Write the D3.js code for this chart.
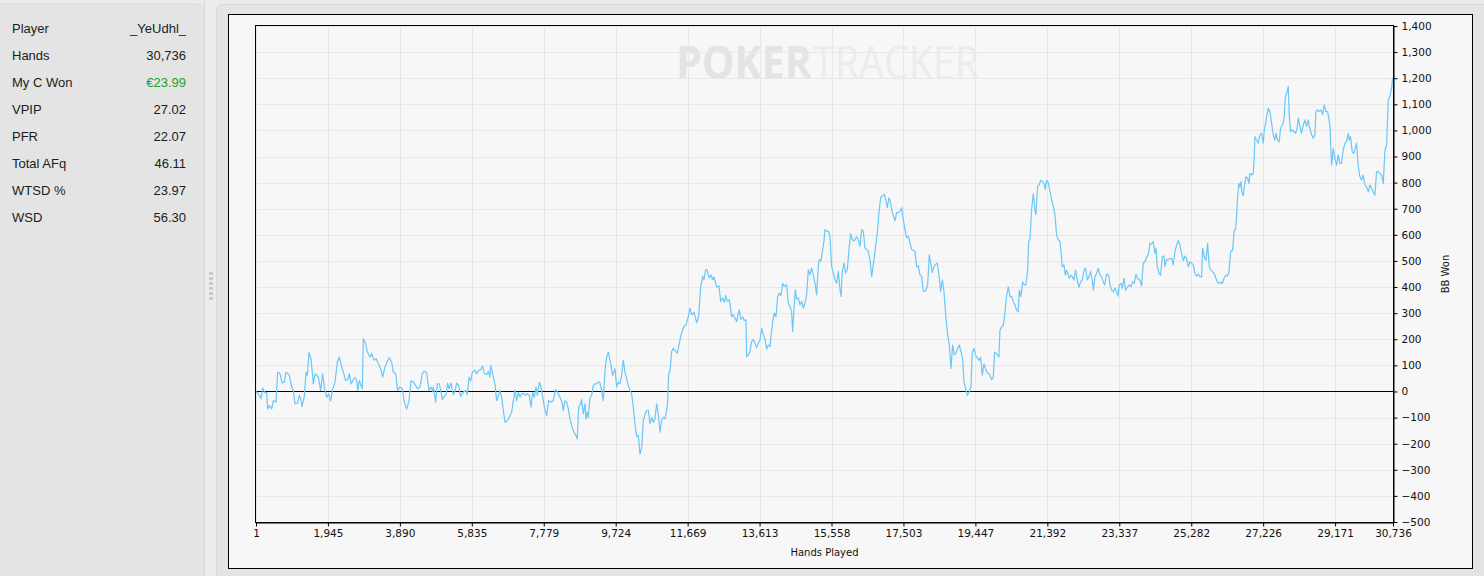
<!DOCTYPE html>
<html>
<head>
<meta charset="utf-8">
<script src="https://cdn.jsdelivr.net/npm/d3@7"></script>
<style>
  body { margin: 0; background: #ececec; overflow: hidden; }
  svg { display: block; }
</style>
</head>
<body>
<svg id="chart" width="1484" height="576"></svg>
<script>
// stats panel
const statLabels = ["Player", "Hands", "My C Won", "VPIP", "PFR", "Total AFq", "WTSD %", "WSD"];
const statValues = ["_YeUdhl_", "30,736", "€23.99", "27.02", "22.07", "46.11", "23.97", "56.30"];

// graph data (hand number, bb won)
const hands = [1,64,136,181,244,290,317,362,425,470,542,587,650,704,767,812,902,965,1010,1055,1127,1172,1218,1245,1308,1353,1389,1434,1488,1551,1596,1641,1686,1749,1803,1848,1911,1965,2019,2073,2137,2200,2254,2299,2362,2425,2479,2524,2569,2632,2677,2722,2749,2794,2839,2875,2902,2965,3011,3083,3128,3191,3245,3308,3371,3425,3488,3551,3605,3668,3713,3776,3830,3894,3957,4011,4074,4137,4191,4254,4299,4371,4434,4497,4551,4614,4677,4731,4776,4795,4858,4903,4957,4993,5038,5083,5137,5182,5218,5272,5335,5380,5425,5479,5533,5605,5668,5714,5759,5804,5849,5921,5966,6020,6074,6128,6173,6236,6281,6326,6344,6416,6461,6506,6551,6597,6642,6687,6732,6795,6849,6912,6957,7002,7047,7092,7137,7182,7227,7272,7317,7389,7434,7479,7524,7570,7606,7660,7705,7768,7813,7858,7912,7975,8038,8092,8128,8173,8218,8272,8308,8353,8398,8443,8489,8543,8597,8651,8687,8723,8759,8804,8849,8894,8921,8957,8984,9029,9074,9119,9164,9209,9254,9299,9344,9389,9435,9480,9525,9588,9642,9705,9750,9795,9840,9885,9930,9975,10020,10065,10110,10155,10200,10245,10291,10336,10381,10426,10471,10516,10561,10606,10651,10696,10741,10786,10831,10876,10921,10966,11011,11056,11101,11128,
  11156,11192,11237,11282,11390,11444,11507,11570,11624,11687,11733,11778,11841,11913,11967,12021,12075,12111,12156,12201,12246,12300,12345,12381,12453,12516,12561,12615,12661,12697,12742,12796,12859,12904,12949,12994,13030,13066,13102,13156,13201,13246,13264,13309,13354,13399,13444,13489,13534,13580,13625,13670,13715,13760,13805,13850,13895,13967,14012,14057,14102,14147,14192,14237,14282,14345,14390,14435,14480,14507,14543,14580,14616,14661,14706,14751,14796,14841,14886,14931,14976,15021,15066,15111,15156,15201,15228,15273,15318,15354,15381,15426,15471,15516,15561,15607,15652,15697,15742,15787,15814,15850,15895,15940,15985,16030,16075,16120,16165,16237,16282,16327,16372,16417,16462,16507,16552,16598,16643,16706,16751,16796,16841,16886,16931,16985,17030,17066,17111,17156,17201,17273,17318,17363,17409,17454,17499,17544,17589,17634,17679,17724,17769,17814,17859,17904,17949,17994,18040,18085,18130,18157,18202,18238,18283,18328,18373,18418,18463,18508,18553,18598,18652,18697,18742,18787,18832,18877,18922,18967,19012,19057,
  19102,19138,19228,19283,19327,19363,19408,19453,19544,19589,19634,19679,19724,19769,19823,19886,19931,19967,20021,20084,20111,20156,20201,20246,20291,20336,20382,20427,20472,20517,20562,20607,20634,20679,20724,20769,20814,20859,20886,20922,20967,21012,21057,21084,21129,21174,21210,21255,21300,21336,21372,21417,21463,21508,21553,21598,21643,21688,21733,21760,21796,21841,21877,21913,21958,21985,22030,22066,22111,22156,22201,22247,22292,22337,22382,22427,22472,22517,22562,22607,22634,22679,22724,22769,22814,22859,22904,22940,22994,23048,23084,23129,23174,23219,23264,23300,23337,23382,23418,23463,23508,23562,23607,23652,23697,23742,23787,23832,23895,23940,23985,24030,24075,24121,24166,24211,24256,24301,24328,24364,24409,24454,24499,24544,24571,24616,24661,24706,24751,24796,24841,24886,24931,24976,25022,25067,25112,25157,25202,25247,25292,25337,25382,25427,25472,25517,
  25562,25589,25634,25679,25724,25769,25814,25859,25904,25985,26031,26076,26121,26166,26211,26256,26301,26346,26400,26445,26481,26508,26535,26571,26598,26625,26652,26688,26715,26760,26805,26842,26869,26914,26959,26986,27004,27049,27094,27139,27184,27229,27256,27292,27337,27364,27409,27454,27499,27544,27571,27616,27661,27697,27724,27769,27796,27823,27905,27932,27968,28013,28067,28103,28148,28175,28220,28265,28310,28355,28400,28445,28490,28535,28580,28625,28652,28697,28743,28788,28833,28878,28923,28968,29031,29076,29121,29166,29211,29256,29301,29346,29391,29436,29481,29526,29553,29589,29634,29679,29752,29797,29842,29887,29932,29977,30022,30067,30112,30157,30202,30247,30293,30338,30383,30428,30473,30518,30563,30608,30653,30698,30725,30736];
const bbWon = [0,-9,-28,13,-6,-3,-67,-54,-67,-35,-41,74,68,33,36,74,62,17,4,-47,-45,-15,-32,-58,-19,74,62,149,126,29,68,62,55,4,68,17,-22,-9,-37,10,36,113,132,106,74,42,45,68,29,45,53,42,4,42,23,10,202,183,151,132,145,119,126,106,87,55,94,117,130,113,74,68,4,17,10,-41,-67,-35,42,36,27,10,17,68,78,71,4,17,1,17,-41,29,29,4,-32,-19,-12,32,10,32,-12,1,32,23,-19,-3,4,-12,55,40,74,81,68,81,83,97,68,65,77,55,100,55,29,-35,-19,4,-22,-73,-118,-112,-99,-79,-35,4,-35,-3,-22,-9,-6,-15,-9,-15,-60,-3,-22,17,-15,36,17,-35,-73,-92,-35,-41,-35,6,4,-9,-22,-41,-73,-35,-41,-67,-105,-137,-156,-169,-182,-60,-54,-31,-86,-47,-105,-79,-99,-24,-15,23,29,29,38,32,4,-35,81,132,151,106,62,87,17,36,29,62,119,74,49,23,4,-9,-60,-124,-173,-169,-240,-215,-112,-86,-73,-71,-124,-99,-118,-105,-47,-86,-156,-112,-99,-105,-73,-40,
  69,76,153,165,146,185,226,249,255,287,319,294,303,264,287,400,441,428,467,464,435,447,428,438,400,405,345,358,341,367,345,351,287,294,281,268,294,313,277,285,272,274,133,140,153,191,200,185,168,185,197,242,217,200,162,178,172,268,300,287,364,377,367,413,403,409,336,326,306,229,313,390,354,358,332,345,319,338,370,467,447,473,447,415,370,479,505,499,544,576,620,614,614,595,479,454,428,415,460,390,364,460,492,454,467,544,604,582,576,592,582,556,620,614,550,544,537,505,441,505,556,608,685,742,749,755,730,704,742,723,685,653,685,685,691,704,659,620,589,595,569,544,541,537,477,482,447,441,383,383,396,409,524,492,456,479,486,492,447,383,428,383,281,217,178,88,178,140,146,165,178,153,
  126,36,-15,-1,17,151,164,138,119,132,62,106,87,71,68,45,55,151,145,132,235,247,254,299,369,401,363,365,344,331,312,305,388,363,420,408,408,465,574,581,696,758,696,677,786,792,809,805,799,773,809,799,767,735,709,677,600,581,574,536,478,485,446,465,446,433,446,440,427,465,427,399,420,427,465,472,427,440,459,427,388,440,452,472,446,440,420,408,450,446,408,388,382,395,382,365,408,414,395,433,388,401,408,401,420,414,450,433,427,404,491,497,514,523,568,565,574,529,549,478,452,446,517,519,478,506,504,510,510,485,536,561,578,561,529,501,519,510,478,497,491,485,452,442,450,440,
  439,548,516,503,567,477,465,458,452,420,413,420,413,433,445,442,458,535,541,618,621,669,746,797,784,804,765,749,784,823,817,797,836,829,836,899,976,963,951,983,989,951,1002,1027,1066,1085,1072,1027,983,963,989,963,957,1008,1015,1027,1053,1123,1168,1053,995,1002,995,989,1012,1047,1015,989,1021,1040,1015,1040,1008,983,970,983,1072,1079,1072,1079,1060,1098,1072,1072,1021,867,931,893,867,906,874,874,925,951,957,989,963,976,919,912,951,861,823,810,829,791,784,765,791,778,765,752,842,842,836,829,797,925,944,1117,1130,1162,1200,1190];

const xTicks = [1,1945,3890,5835,7779,9724,11669,13613,15558,17503,19447,21392,23337,25282,27226,29171,30736];
const yTicks = [-500,-400,-300,-200,-100,0,100,200,300,400,500,600,700,800,900,1000,1100,1200,1300,1400];

const svg = d3.select("#chart");
const axisFont = "'DejaVu Sans', sans-serif";

// left stats panel
svg.append("rect").attr("x", -6).attr("y", 4).attr("width", 210).attr("height", 590)
    .attr("rx", 6).attr("fill", "#e4e4e4").attr("stroke", "#d9d9d9");

statLabels.forEach(function (lab, i) {
    const yy = 33 + i * 27;
    svg.append("text").attr("x", 12).attr("y", yy)
        .style("font-family", "'Liberation Sans', Arial, sans-serif").style("font-size", "13px")
        .attr("fill", "#1c1c1c").text(lab);
    svg.append("text").attr("x", 186).attr("y", yy).attr("text-anchor", "end")
        .style("font-family", "'Liberation Sans', Arial, sans-serif").style("font-size", "13px")
        .attr("fill", lab === "My C Won" ? "#17a817" : "#1c1c1c").text(statValues[i]);
});

// splitter handle
svg.append("line").attr("x1", 204.5).attr("x2", 204.5).attr("y1", 0).attr("y2", 576).attr("stroke", "#dcdcdc");
d3.range(6).forEach(function (i) {
    svg.append("rect").attr("x", 209).attr("y", 272 + i * 5).attr("width", 4).attr("height", 3).attr("fill", "#cbcbcb");
});

// right panel
svg.append("rect").attr("x", 216.5).attr("y", 4.5).attr("width", 1280).attr("height", 590)
    .attr("rx", 6).attr("fill", "#e4e4e4").attr("stroke", "#d9d9d9");
svg.append("rect").attr("x", 228.5).attr("y", 14.5).attr("width", 1244).attr("height", 554)
    .attr("fill", "#f7f7f7").attr("stroke", "#000");

const margin = {top: 26, left: 256, bottom: 522, right: 1393};

const xScale = d3.scaleLinear().domain([1, 30736]).range([margin.left, margin.right]);
const yScale = d3.scaleLinear().domain([-500, 1400]).range([margin.bottom, margin.top]);

// watermark
const wm = svg.append("g").style("font-family", "'Open Sans', sans-serif");
wm.append("text").attr("x", 676).attr("y", 79).attr("textLength", 136).attr("lengthAdjust", "spacingAndGlyphs")
    .style("font-size", "46px").style("font-weight", 700).attr("fill", "#e4e4e4").text("POKER");
wm.append("text").attr("x", 813).attr("y", 79).attr("textLength", 166).attr("lengthAdjust", "spacingAndGlyphs")
    .style("font-size", "46px").style("font-weight", 400).attr("fill", "#ececec").text("TRACKER");

// grid
svg.append("g").selectAll("line").data(yTicks).join("line")
    .attr("x1", margin.left).attr("x2", margin.right)
    .attr("y1", d => Math.round(yScale(d)) + 0.5).attr("y2", d => Math.round(yScale(d)) + 0.5)
    .attr("stroke", "#e8e8e8");
svg.append("g").selectAll("line").data(xTicks).join("line")
    .attr("x1", d => Math.round(xScale(d)) + 0.5).attr("x2", d => Math.round(xScale(d)) + 0.5)
    .attr("y1", margin.top).attr("y2", margin.bottom)
    .attr("stroke", "#e8e8e8");

// plot frame
svg.append("rect").attr("x", margin.left - 0.5).attr("y", margin.top - 0.5)
    .attr("width", margin.right - margin.left + 1).attr("height", margin.bottom - margin.top + 1)
    .attr("fill", "none").attr("stroke", "#000");

// zero line
svg.append("line").attr("x1", margin.left).attr("x2", margin.right)
    .attr("y1", Math.round(yScale(0)) + 0.5).attr("y2", Math.round(yScale(0)) + 0.5)
    .attr("stroke", "#000");

// winnings line
const points = hands.map((h, i) => [h, bbWon[i]]);
const lineGen = d3.line().x(d => xScale(d[0])).y(d => yScale(d[1]));
svg.append("path").datum(points)
    .attr("fill", "none").attr("stroke", "#6cc6f7").attr("stroke-width", 1.2)
    .attr("stroke-linejoin", "round").attr("d", lineGen);

// axes
const xAxis = d3.axisBottom(xScale).tickValues(xTicks).tickFormat(d3.format(",")).tickSize(4).tickSizeOuter(0).tickPadding(3);
const yAxis = d3.axisRight(yScale).tickValues(yTicks).tickFormat(d3.format(",")).tickSize(4).tickSizeOuter(0).tickPadding(4);

const gx = svg.append("g").attr("transform", `translate(0,${margin.bottom + 0.5})`).call(xAxis);
const gy = svg.append("g").attr("transform", `translate(${margin.right + 0.5},0)`).call(yAxis);
[gx, gy].forEach(function (g) {
    g.select(".domain").attr("stroke", "#000");
    g.selectAll(".tick line").attr("stroke", "#000");
    g.selectAll("text").style("font-family", axisFont).style("font-size", "10.5px").attr("fill", "#111");
});

svg.append("text").attr("x", (margin.left + margin.right) / 2).attr("y", 556).attr("text-anchor", "middle")
    .style("font-family", axisFont).style("font-size", "10px").attr("fill", "#111").text("Hands Played");
svg.append("text").attr("transform", `translate(1449,${(margin.top + margin.bottom) / 2}) rotate(-90)`)
    .attr("text-anchor", "middle")
    .style("font-family", axisFont).style("font-size", "10px").attr("fill", "#111").text("BB Won");
</script>
</body>
</html>
